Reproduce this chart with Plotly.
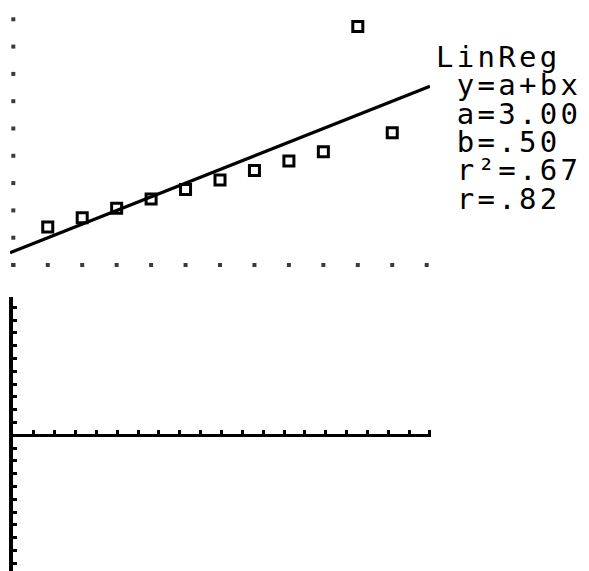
import plotly.graph_objects as go

# Anscombe set III as seen on the calculator screen
x_vals = [4, 5, 6, 7, 8, 9, 10, 11, 12, 13, 14]
y_vals = [5.39, 5.73, 6.08, 6.42, 6.77, 7.11, 7.46, 7.81, 8.15, 12.74, 8.84]

# LinReg output
a_coef = 3.00
b_coef = 0.50
stat_lines = ["LinReg", " y=a+bx", " a=3.00", " b=.50", " r²=.67", " r=.82"]

# window tick marks (dots along the edges)
x_ticks = [3, 4, 5, 6, 7, 8, 9, 10, 11, 12, 13, 14, 15]
y_ticks = [4, 5, 6, 7, 8, 9, 10, 11, 12, 13]

# page body has an 8px margin, so the figure is a bit smaller than the window
OFF = 8
W, H = 581, 563
xr = [2.904, 15.096]
yr = [3.89, 13.414]


def px(v):
    return (v - OFF) / W


def py(v):
    return 1 - (v - OFF) / H


fig = go.Figure()

# dots along the bottom and left edges
fig.add_trace(go.Scatter(x=x_ticks, y=[y_ticks[0]] * len(x_ticks), mode="markers",
                         marker=dict(symbol="square", size=4, color="#3a3a3a"),
                         xaxis="x", yaxis="y", cliponaxis=False))
fig.add_trace(go.Scatter(x=[x_ticks[0]] * len(y_ticks), y=y_ticks, mode="markers",
                         marker=dict(symbol="square", size=4, color="#3a3a3a"),
                         xaxis="x", yaxis="y", cliponaxis=False))

# regression line across the window
fig.add_trace(go.Scatter(x=xr, y=[a_coef + b_coef * v for v in xr], mode="lines",
                         line=dict(color="black", width=3.2), xaxis="x", yaxis="y"))

# data points
fig.add_trace(go.Scatter(x=x_vals, y=y_vals, mode="markers",
                         marker=dict(symbol="square-open", size=10, color="black",
                                     line=dict(width=3, color="black")),
                         xaxis="x", yaxis="y", cliponaxis=False))

# residual window (empty, axes only)
fig.add_trace(go.Scatter(x=[None], y=[None], xaxis="x2", yaxis="y2"))

# one text block; line pitch set by the small base size, glyphs enlarged per line
stat_text = "<br>".join(
    '<span style="font-size:29px;letter-spacing:3.3px">%s</span>' % s for s in stat_lines)

fig.update_layout(
    width=W, height=H, margin=dict(l=0, r=0, t=0, b=0),
    paper_bgcolor="white", plot_bgcolor="white", showlegend=False,
    xaxis=dict(domain=[px(10), px(430)], range=xr, visible=False, anchor="y"),
    yaxis=dict(domain=[py(268), 1], range=yr, visible=False, anchor="x"),
    xaxis2=dict(domain=[px(13), px(431)], range=[0, 20.05], anchor="free",
                position=py(435), showline=True, linewidth=3, linecolor="black",
                ticks="inside", ticklen=4, tickwidth=3, tickcolor="black",
                dtick=1, tick0=0, showticklabels=False, showgrid=False, zeroline=False),
    yaxis2=dict(domain=[0, py(297)], range=[-10.6, 10.8], anchor="x2",
                showline=True, linewidth=3.5, linecolor="black",
                ticks="inside", ticklen=4, tickwidth=3, tickcolor="black",
                dtick=1, tick0=0, showticklabels=False, showgrid=False, zeroline=False),
    annotations=[dict(text=stat_text, x=px(434), y=py(38), xref="paper", yref="paper",
                      xanchor="left", yanchor="top", align="left", showarrow=False,
                      font=dict(family="DejaVu Sans Mono", size=21.8, color="black"))],
)

fig.write_html("out.html")
